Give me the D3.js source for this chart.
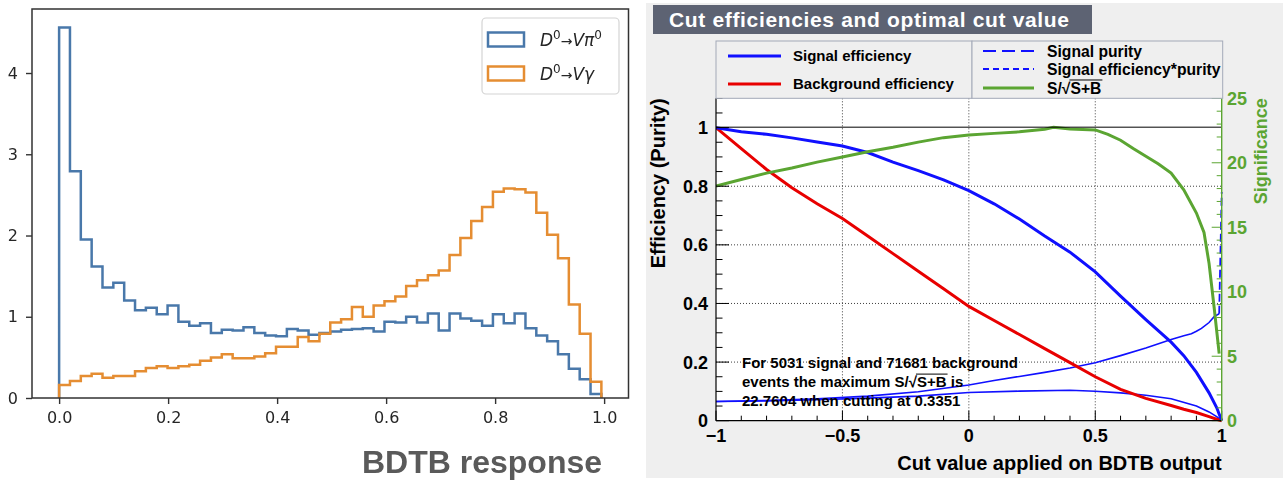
<!DOCTYPE html>
<html>
<head>
<meta charset="utf-8">
<script src="https://cdn.jsdelivr.net/npm/d3@7"></script>
<style>
  html, body { margin: 0; padding: 0; background: #fff; }
  svg { display: block; }
</style>
</head>
<body>
<svg id="chart" width="1283" height="481"></svg>
<script>
// ---------------- BDT response histograms (density, 50 bins) ----------------
const histRange = [0, 0.995];
const histBins = 50;
const histPi0 = [4.56, 2.79, 1.95, 1.62, 1.36, 1.42, 1.20, 1.08, 1.11, 1.03,
                 1.14, 0.94, 0.89, 0.92, 0.80, 0.84, 0.83, 0.87, 0.80, 0.77,
                 0.76, 0.85, 0.83, 0.78, 0.80, 0.82, 0.84, 0.85, 0.86, 0.82,
                 0.94, 0.93, 1.00, 0.93, 1.04, 0.83, 1.04, 0.98, 0.95, 0.89,
                 1.03, 0.92, 1.04, 0.86, 0.77, 0.70, 0.54, 0.36, 0.23, 0.05];
const histGamma = [0.16, 0.21, 0.27, 0.30, 0.25, 0.27, 0.27, 0.33, 0.37, 0.39,
                   0.37, 0.39, 0.41, 0.46, 0.50, 0.54, 0.49, 0.49, 0.51, 0.55,
                   0.63, 0.63, 0.75, 0.70, 0.79, 0.93, 0.97, 1.12, 1.00, 1.14,
                   1.19, 1.25, 1.38, 1.45, 1.51, 1.57, 1.76, 1.97, 2.18, 2.35,
                   2.54, 2.58, 2.57, 2.53, 2.28, 2.01, 1.72, 1.15, 0.79, 0.20];
const histXTicks = [0.0, 0.2, 0.4, 0.6, 0.8, 1.0];
const histYTicks = [0, 1, 2, 3, 4];
const histXTitle = "BDTB response";

// ---------------- Cut efficiencies versus cut value ----------------
const effCut  = [-1, -0.9, -0.8, -0.7, -0.6, -0.5, -0.4, -0.3, -0.2, -0.1, 0,
                 0.1, 0.2, 0.3, 0.4, 0.5, 0.6, 0.7, 0.8, 0.85, 0.9, 0.95, 0.98, 1.0];
const sigEff  = [1.0, 0.986, 0.977, 0.965, 0.951, 0.937, 0.915, 0.882, 0.853, 0.822, 0.785,
                 0.740, 0.688, 0.630, 0.575, 0.508, 0.425, 0.345, 0.268, 0.222, 0.165, 0.095, 0.045, 0];
const bkgEff  = [1.0, 0.928, 0.857, 0.795, 0.740, 0.690, 0.630, 0.570, 0.510, 0.450, 0.390,
                 0.342, 0.294, 0.246, 0.198, 0.150, 0.107, 0.076, 0.052, 0.039, 0.028, 0.014, 0.005, 0];

const purCut  = [-1, -0.8, -0.6, -0.4, -0.2, 0, 0.1, 0.2, 0.3, 0.4, 0.5, 0.6, 0.7, 0.8,
                 0.85, 0.88, 0.9, 0.92, 0.95, 0.97, 0.99];
const purity  = [0.0656, 0.069, 0.075, 0.084, 0.099, 0.122, 0.137, 0.151, 0.165, 0.180, 0.198,
                 0.222, 0.248, 0.277, 0.290, 0.297, 0.305, 0.315, 0.335, 0.355, 0.365];
const purityEnd = [[0.99, 0.365], [1.0, 0.78]];

const epCut     = [-1, -0.8, -0.6, -0.4, -0.2, 0, 0.2, 0.4, 0.5, 0.6, 0.7, 0.8, 0.9, 0.95, 0.98, 1.0];
const effPurity = [0.0656, 0.0675, 0.0715, 0.077, 0.084, 0.096, 0.101, 0.104, 0.1005, 0.095,
                   0.087, 0.075, 0.050, 0.030, 0.014, 0];

const sigCut  = [-1, -0.9, -0.8, -0.7, -0.6, -0.5, -0.4, -0.3, -0.2, -0.1, 0, 0.1, 0.2, 0.3,
                 0.3351, 0.4, 0.5, 0.55, 0.6, 0.65, 0.7, 0.75, 0.8, 0.85, 0.9, 0.93, 0.95, 0.97, 0.98, 0.99];
const significance = [18.2, 18.7, 19.2, 19.6, 20.05, 20.45, 20.85, 21.2, 21.6, 21.95, 22.15, 22.28, 22.4, 22.6,
                      22.76, 22.62, 22.55, 22.2, 21.75, 21.1, 20.5, 19.9, 19.2, 17.9, 16.1, 14.6, 12.2, 8.8, 7.0, 5.2];
const maxSignificance = 22.7604;

const cutXTicks = [-1, -0.5, 0, 0.5, 1];
const cutXTickLabels = ["\u22121", "\u22120.5", "0", "0.5", "1"];
const effYTicks = [0, 0.2, 0.4, 0.6, 0.8, 1];
const effYTickLabels = ["0", "0.2", "0.4", "0.6", "0.8", "1"];
const sigTicks = [0, 5, 10, 15, 20, 25];
const nSignal = 5031, nBackground = 71681, bestCut = 0.3351;

// ======================================================================
const svg = d3.select("#chart");
const defs = svg.append("defs");
defs.append("filter").attr("id", "soft")
  .append("feGaussianBlur").attr("stdDeviation", 0.45);

// ---------------- left panel: histogram ----------------
const L = svg.append("g").attr("filter", "url(#soft)");
const fL = { left: 32, right: 628.5, top: 9, bottom: 398 };
const span = histRange[1] - histRange[0];
const xH = d3.scaleLinear()
  .domain([histRange[0] - 0.05 * span, histRange[1] + 0.05 * span])
  .range([fL.left, fL.right]);
const yH = d3.scaleLinear()
  .domain([0, d3.max(histPi0.concat(histGamma)) * 1.05])
  .range([fL.bottom, fL.top]);

const edges = d3.range(histBins + 1).map(i => histRange[0] + i * span / histBins);
function stepPoints(vals) {
  const pts = [[edges[0], 0]];
  vals.forEach((v, i) => { pts.push([edges[i], v]); pts.push([edges[i + 1], v]); });
  pts.push([edges[histBins], 0]);
  return pts;
}
const stepLine = d3.line().x(d => xH(d[0])).y(d => yH(d[1]));
const colPi0 = "#4a78aa";
const colGamma = "#e58d30";

L.append("path").attr("d", stepLine(stepPoints(histPi0)))
  .attr("fill", "none").attr("stroke", colPi0).attr("stroke-width", 2.5)
  .attr("stroke-linejoin", "miter");
L.append("path").attr("d", stepLine(stepPoints(histGamma)))
  .attr("fill", "none").attr("stroke", colGamma).attr("stroke-width", 2.5)
  .attr("stroke-linejoin", "miter");

const axL = L.append("g").attr("transform", `translate(${fL.left},0)`)
  .call(d3.axisLeft(yH).tickValues(histYTicks).tickFormat(d3.format("d")).tickSize(6).tickPadding(8));
const axB = L.append("g").attr("transform", `translate(0,${fL.bottom})`)
  .call(d3.axisBottom(xH).tickValues(histXTicks).tickFormat(d3.format(".1f")).tickSize(6).tickPadding(8));
[axL, axB].forEach(a => {
  a.select(".domain").remove();
  a.selectAll("line").attr("stroke", "#333").attr("stroke-width", 1.4);
  a.selectAll("text").attr("font-family", "DejaVu Sans").attr("font-size", 16).attr("fill", "#262626");
});
L.append("rect").attr("x", fL.left).attr("y", fL.top)
  .attr("width", fL.right - fL.left).attr("height", fL.bottom - fL.top)
  .attr("fill", "none").attr("stroke", "#333").attr("stroke-width", 1.5);

// legend
const lg = L.append("g");
lg.append("rect").attr("x", 482).attr("y", 18).attr("width", 137).attr("height", 76).attr("rx", 4)
  .attr("fill", "#fff").attr("fill-opacity", 0.8).attr("stroke", "#d4d4d4").attr("stroke-width", 1.2);
const legendItems = [
  { color: colPi0, last: "\u03c0", sup2: true },
  { color: colGamma, last: "\u03b3", sup2: false }
];
legendItems.forEach((it, i) => {
  const cy = 39.5 + i * 34;
  lg.append("rect").attr("x", 488).attr("y", cy - 7).attr("width", 36).attr("height", 14)
    .attr("fill", "none").attr("stroke", it.color).attr("stroke-width", 2.5);
  const t = lg.append("text").attr("x", 540).attr("y", cy + 6)
    .attr("font-family", "DejaVu Sans").attr("font-size", 17).attr("fill", "#262626");
  t.append("tspan").attr("font-style", "italic").text("D");
  t.append("tspan").attr("font-size", 12).attr("dy", -7).text("0");
  t.append("tspan").attr("dy", 7).attr("font-size", 14).text("\u2192");
  t.append("tspan").attr("font-style", "italic").text("V" + it.last);
  if (it.sup2) t.append("tspan").attr("font-size", 12).attr("dy", -7).text("0");
});

L.append("text").attr("x", 482).attr("y", 473).attr("text-anchor", "middle")
  .attr("font-family", "Liberation Sans").attr("font-weight", "bold").attr("font-size", 32)
  .attr("fill", "#5a5a5a").text(histXTitle);

// ---------------- right panel: cut efficiencies ----------------
const R = svg.append("g");
const FONT = "Liberation Sans";
R.append("rect").attr("x", 646).attr("y", 3).attr("width", 637).attr("height", 475).attr("fill", "#efefef");
R.append("rect").attr("x", 653).attr("y", 5).attr("width", 439).attr("height", 29).attr("fill", "#5d6373");
R.append("text").attr("x", 669).attr("y", 26.5)
  .attr("font-family", FONT).attr("font-weight", "bold").attr("font-size", 21).attr("fill", "#fff")
  .attr("textLength", 400).attr("lengthAdjust", "spacing")
  .text("Cut efficiencies and optimal cut value");

const fR = { left: 716, right: 1221.7, top: 98.3, bottom: 420.7 };
const xR = d3.scaleLinear().domain([-1, 1]).range([fR.left, fR.right]);
const yR = d3.scaleLinear().domain([0, 1.1]).range([fR.bottom, fR.top]);
const yS = d3.scaleLinear().domain([0, 25]).range([fR.bottom, fR.top]);

R.append("rect").attr("x", fR.left).attr("y", fR.top)
  .attr("width", fR.right - fR.left).attr("height", fR.bottom - fR.top).attr("fill", "#fff");

// dotted grid
const grid = R.append("g").attr("stroke", "#000").attr("stroke-width", 1)
  .attr("stroke-dasharray", "1,2").attr("opacity", 0.75);
cutXTicks.slice(1, -1).forEach(v => grid.append("line")
  .attr("x1", xR(v)).attr("x2", xR(v)).attr("y1", fR.top).attr("y2", fR.bottom));
effYTicks.slice(1, -1).forEach(v => grid.append("line")
  .attr("x1", fR.left).attr("x2", fR.right).attr("y1", yR(v)).attr("y2", yR(v)));

// curves
const clip = defs.append("clipPath").attr("id", "plotclip");
clip.append("rect").attr("x", fR.left).attr("y", fR.top - 2)
  .attr("width", fR.right - fR.left + 2).attr("height", fR.bottom - fR.top + 4);
const C = R.append("g").attr("clip-path", "url(#plotclip)");
const lineR = d3.line().x(d => xR(d[0])).y(d => yR(d[1]));
const lineS = d3.line().x(d => xR(d[0])).y(d => yS(d[1]));
const zip = (a, b) => a.map((v, i) => [v, b[i]]);

const BLUE = "#1010ff", RED = "#e80000", GREEN = "#5ba532";

C.append("path").attr("d", lineR(zip(epCut, effPurity)))
  .attr("fill", "none").attr("stroke", BLUE).attr("stroke-width", 1.6);
C.append("path").attr("d", lineR(zip(purCut, purity)))
  .attr("fill", "none").attr("stroke", BLUE).attr("stroke-width", 1.6);
C.append("path").attr("d", lineR(purityEnd))
  .attr("fill", "none").attr("stroke", BLUE).attr("stroke-width", 1.8).attr("stroke-dasharray", "8,4");
C.append("path").attr("d", lineR(zip(effCut, bkgEff)))
  .attr("fill", "none").attr("stroke", RED).attr("stroke-width", 3);
C.append("path").attr("d", lineR(zip(effCut, sigEff)))
  .attr("fill", "none").attr("stroke", BLUE).attr("stroke-width", 3);
C.append("path").attr("d", lineS(zip(sigCut, significance)))
  .attr("fill", "none").attr("stroke", GREEN).attr("stroke-width", 3);

// maximum significance reference line (scaled to 1)
R.append("line").attr("x1", fR.left).attr("x2", fR.right)
  .attr("y1", yS(maxSignificance)).attr("y2", yS(maxSignificance))
  .attr("stroke", "#000").attr("stroke-width", 1);

// axes with inward ticks
const ticks = R.append("g");
function tickSet(values, fn) { values.forEach(fn); }
tickSet(d3.range(-1, 1.0001, 0.1), v => {
  const major = Math.abs(Math.round(v * 2) - v * 2) < 1e-6;
  ticks.append("line").attr("x1", xR(v)).attr("x2", xR(v))
    .attr("y1", fR.bottom).attr("y2", fR.bottom - (major ? 10 : 5))
    .attr("stroke", "#000").attr("stroke-width", 1);
});
tickSet(d3.range(0, 1.1001, 0.05), v => {
  const major = Math.abs(Math.round(v * 5) - v * 5) < 1e-6;
  ticks.append("line").attr("x1", fR.left).attr("x2", fR.left + (major ? 13 : 6.5))
    .attr("y1", yR(v)).attr("y2", yR(v)).attr("stroke", "#000").attr("stroke-width", 1);
});
tickSet(d3.range(0, 25.001, 1), v => {
  const major = v % 5 === 0;
  ticks.append("line").attr("x1", fR.right).attr("x2", fR.right - (major ? 10 : 5))
    .attr("y1", yS(v)).attr("y2", yS(v)).attr("stroke", GREEN).attr("stroke-width", 1);
});
R.append("line").attr("x1", fR.left).attr("x2", fR.right).attr("y1", fR.bottom).attr("y2", fR.bottom)
  .attr("stroke", "#000").attr("stroke-width", 1.2);
R.append("line").attr("x1", fR.left).attr("x2", fR.left).attr("y1", fR.top).attr("y2", fR.bottom)
  .attr("stroke", "#000").attr("stroke-width", 1.2);
R.append("line").attr("x1", fR.right).attr("x2", fR.right).attr("y1", fR.top).attr("y2", fR.bottom)
  .attr("stroke", GREEN).attr("stroke-width", 1.4);

const lab = R.append("g").attr("font-family", FONT).attr("font-weight", "bold").attr("font-size", 18);
cutXTicks.forEach((v, i) => lab.append("text").attr("x", xR(v)).attr("y", 442)
  .attr("text-anchor", "middle").attr("fill", "#000").text(cutXTickLabels[i]));
effYTicks.forEach((v, i) => lab.append("text").attr("x", 708).attr("y", yR(v)).attr("dy", "0.36em")
  .attr("text-anchor", "end").attr("fill", "#000").text(effYTickLabels[i]));
sigTicks.forEach(v => lab.append("text").attr("x", 1227).attr("y", yS(v)).attr("dy", "0.36em")
  .attr("text-anchor", "start").attr("fill", GREEN).text(v));

lab.append("text").attr("x", fR.right).attr("y", 470).attr("text-anchor", "end")
  .attr("font-size", 20).attr("fill", "#000").text("Cut value applied on BDTB output");
lab.append("text").attr("transform", `translate(665,${fR.top}) rotate(-90)`).attr("text-anchor", "end")
  .attr("font-size", 20).attr("fill", "#000").text("Efficiency (Purity)");
lab.append("text").attr("transform", `translate(1267,${fR.top}) rotate(-90)`).attr("text-anchor", "end")
  .attr("font-size", 18).attr("fill", GREEN).text("Significance");

// text with a square root over "S+B"
function sqrtText(parent, x, y, size, before, after) {
  const t = parent.append("text").attr("x", x).attr("y", y)
    .attr("font-family", FONT).attr("font-weight", "bold").attr("font-size", size).attr("fill", "#000");
  const full = before + "S/\u221aS+B" + after;
  t.text(full);
  const n = t.node();
  const i0 = before.length + 3;
  const x0 = n.getStartPositionOfChar(i0).x;
  const x1 = n.getEndPositionOfChar(i0 + 2).x;
  parent.append("line").attr("x1", x0 - 1).attr("x2", x1 + 1)
    .attr("y1", y - size * 0.86).attr("y2", y - size * 0.86)
    .attr("stroke", "#000").attr("stroke-width", 1);
  return t;
}

// legends
const leg = R.append("g");
leg.append("rect").attr("x", 716).attr("y", 41).attr("width", 256).attr("height", 57.3)
  .attr("fill", "#efefef").attr("stroke", "#a3a9b8").attr("stroke-width", 1);
leg.append("rect").attr("x", 972).attr("y", 41).attr("width", 250.7).attr("height", 57.3)
  .attr("fill", "#efefef").attr("stroke", "#a3a9b8").attr("stroke-width", 1);
const legTxt = (x, y, s, size) => leg.append("text").attr("x", x).attr("y", y).attr("dy", "0.36em")
  .attr("font-family", FONT).attr("font-weight", "bold").attr("font-size", size || 15).attr("fill", "#000").text(s);
const legLine = (y, x1, x2, col, w, dash) => leg.append("line").attr("x1", x1).attr("x2", x2)
  .attr("y1", y).attr("y2", y).attr("stroke", col).attr("stroke-width", w)
  .attr("stroke-dasharray", dash || null);
legLine(56, 728, 781, BLUE, 3);
legTxt(793, 56, "Signal efficiency");
legLine(84, 728, 781, RED, 3);
legTxt(793, 84, "Background efficiency");
legLine(51, 983, 1034, BLUE, 2, "13,6");
legTxt(1047, 51, "Signal purity", 15.7);
legLine(69, 983, 1034, BLUE, 2, "6,4");
legTxt(1047, 69, "Signal efficiency*purity", 15.7);
legLine(88, 983, 1034, GREEN, 3);
sqrtText(leg, 1047, 93.5, 15.7, "", "");

// annotation
const ann = R.append("g");
ann.append("text").attr("x", 742).attr("y", 368.3)
  .attr("font-family", FONT).attr("font-weight", "bold").attr("font-size", 15)
  .text(`For ${nSignal} signal and ${nBackground} background`);
sqrtText(ann, 742, 387, 15, "events the maximum ", " is");
ann.append("text").attr("x", 742).attr("y", 405.7)
  .attr("font-family", FONT).attr("font-weight", "bold").attr("font-size", 15)
  .text(`${maxSignificance} when cutting at ${bestCut}`);
</script>
</body>
</html>
